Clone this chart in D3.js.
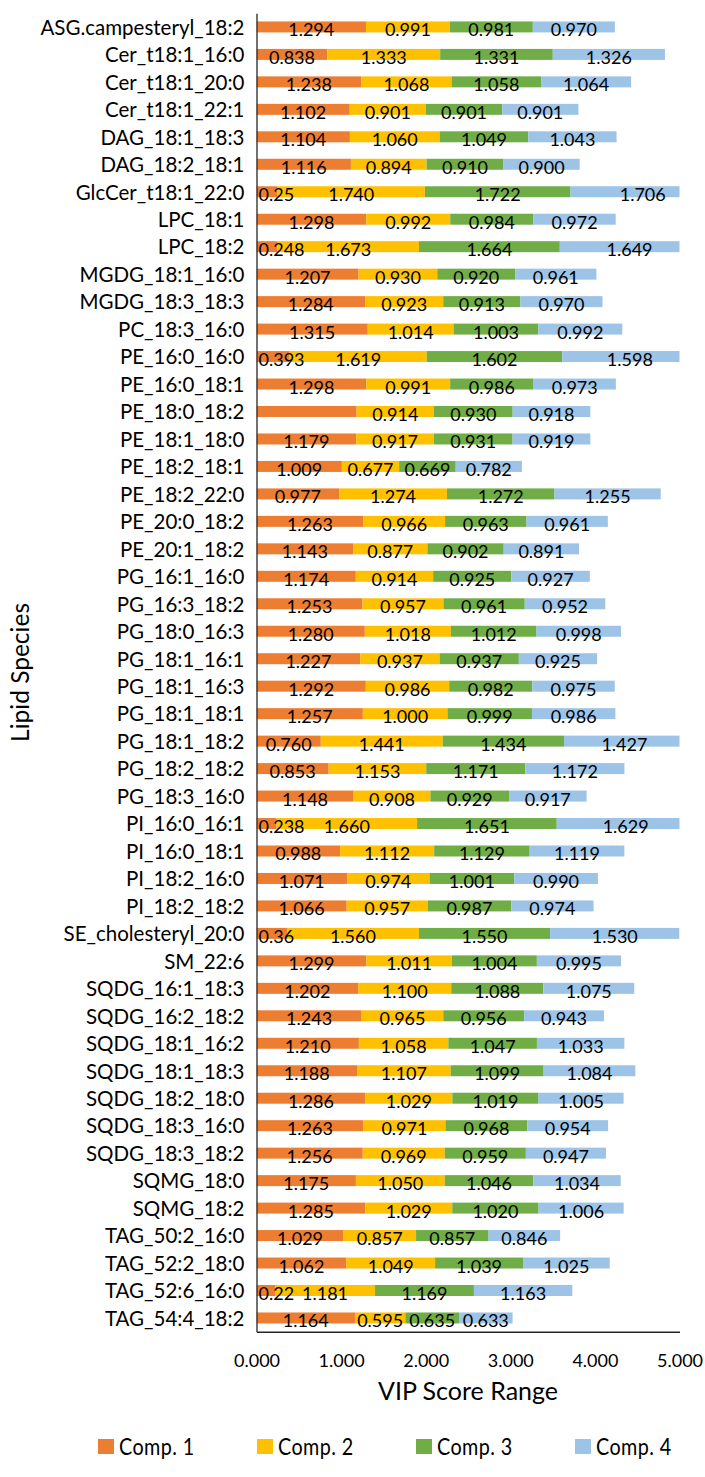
<!DOCTYPE html>
<html>
<head>
<meta charset="utf-8">
<script src="https://cdn.jsdelivr.net/npm/d3@7"></script>
<style>
  html, body { margin: 0; padding: 0; background: #fff; }
  svg { display: block; }
  text { font-family: Lato, "Noto Sans", sans-serif; fill: #000; }
</style>
</head>
<body>
<svg id="chart" width="705" height="1477"></svg>
<script>
// Lipid species (top to bottom)
const categories = [
  "ASG.campesteryl_18:2", "Cer_t18:1_16:0", "Cer_t18:1_20:0", "Cer_t18:1_22:1",
  "DAG_18:1_18:3", "DAG_18:2_18:1", "GlcCer_t18:1_22:0", "LPC_18:1", "LPC_18:2",
  "MGDG_18:1_16:0", "MGDG_18:3_18:3", "PC_18:3_16:0", "PE_16:0_16:0", "PE_16:0_18:1",
  "PE_18:0_18:2", "PE_18:1_18:0", "PE_18:2_18:1", "PE_18:2_22:0", "PE_20:0_18:2",
  "PE_20:1_18:2", "PG_16:1_16:0", "PG_16:3_18:2", "PG_18:0_16:3", "PG_18:1_16:1",
  "PG_18:1_16:3", "PG_18:1_18:1", "PG_18:1_18:2", "PG_18:2_18:2", "PG_18:3_16:0",
  "PI_16:0_16:1", "PI_16:0_18:1", "PI_18:2_16:0", "PI_18:2_18:2", "SE_cholesteryl_20:0",
  "SM_22:6", "SQDG_16:1_18:3", "SQDG_16:2_18:2", "SQDG_18:1_16:2", "SQDG_18:1_18:3",
  "SQDG_18:2_18:0", "SQDG_18:3_16:0", "SQDG_18:3_18:2", "SQMG_18:0", "SQMG_18:2",
  "TAG_50:2_16:0", "TAG_52:2_18:0", "TAG_52:6_16:0", "TAG_54:4_18:2"
];

// VIP scores per component, kept as the printed label text
const comp1 = [
  "1.294", "0.838", "1.238", "1.102", "1.104", "1.116", "0.25", "1.298", "0.248",
  "1.207", "1.284", "1.315", "0.393", "1.298", "1.184", "1.179", "1.009", "0.977",
  "1.263", "1.143", "1.174", "1.253", "1.280", "1.227", "1.292", "1.257", "0.760",
  "0.853", "1.148", "0.238", "0.988", "1.071", "1.066", "0.36", "1.299", "1.202",
  "1.243", "1.210", "1.188", "1.286", "1.263", "1.256", "1.175", "1.285", "1.029",
  "1.062", "0.22", "1.164"
];
const comp2 = [
  "0.991", "1.333", "1.068", "0.901", "1.060", "0.894", "1.740", "0.992", "1.673",
  "0.930", "0.923", "1.014", "1.619", "0.991", "0.914", "0.917", "0.677", "1.274",
  "0.966", "0.877", "0.914", "0.957", "1.018", "0.937", "0.986", "1.000", "1.441",
  "1.153", "0.908", "1.660", "1.112", "0.974", "0.957", "1.560", "1.011", "1.100",
  "0.965", "1.058", "1.107", "1.029", "0.971", "0.969", "1.050", "1.029", "0.857",
  "1.049", "1.181", "0.595"
];
const comp3 = [
  "0.981", "1.331", "1.058", "0.901", "1.049", "0.910", "1.722", "0.984", "1.664",
  "0.920", "0.913", "1.003", "1.602", "0.986", "0.930", "0.931", "0.669", "1.272",
  "0.963", "0.902", "0.925", "0.961", "1.012", "0.937", "0.982", "0.999", "1.434",
  "1.171", "0.929", "1.651", "1.129", "1.001", "0.987", "1.550", "1.004", "1.088",
  "0.956", "1.047", "1.099", "1.019", "0.968", "0.959", "1.046", "1.020", "0.857",
  "1.039", "1.169", "0.635"
];
const comp4 = [
  "0.970", "1.326", "1.064", "0.901", "1.043", "0.900", "1.706", "0.972", "1.649",
  "0.961", "0.970", "0.992", "1.598", "0.973", "0.918", "0.919", "0.782", "1.255",
  "0.961", "0.891", "0.927", "0.952", "0.998", "0.925", "0.975", "0.986", "1.427",
  "1.172", "0.917", "1.629", "1.119", "0.990", "0.974", "1.530", "0.995", "1.075",
  "0.943", "1.033", "1.084", "1.005", "0.954", "0.947", "1.034", "1.006", "0.846",
  "1.025", "1.163", "0.633"
];

// Segments drawn without a data label
const hiddenLabels = [{ series: "Comp. 1", category: "PE_18:0_18:2" }];

const seriesNames = ["Comp. 1", "Comp. 2", "Comp. 3", "Comp. 4"];
const seriesColors = ["#ED7D31", "#FFC000", "#70AD47", "#9DC3E6"];
const xTicks = [0, 1, 2, 3, 4, 5];

const seriesText = [comp1, comp2, comp3, comp4];
const rows = categories.map((c, i) => {
  const r = { category: c };
  seriesNames.forEach((s, k) => { r[s] = +seriesText[k][i]; r[s + "#label"] = seriesText[k][i]; });
  return r;
});

const svg = d3.select("#chart");

const plot = { left: 256.5, right: 679.5, top: 13.2, bottom: 1331.7 };

const x = d3.scaleLinear().domain([0, 5]).range([plot.left, plot.right]);
const y = d3.scaleBand().domain(categories).range([plot.top, plot.bottom])
  .paddingInner(0.6).paddingOuter(0.3);
const color = d3.scaleOrdinal().domain(seriesNames).range(seriesColors);

const stacked = d3.stack().keys(seriesNames)(rows);

svg.append("clipPath").attr("id", "plot-clip")
  .append("rect")
  .attr("x", plot.left).attr("y", 0)
  .attr("width", plot.right - plot.left).attr("height", plot.bottom);

// Stacked bars (clipped to the 0–5 axis range)
const barsG = svg.append("g").attr("clip-path", "url(#plot-clip)");
barsG.selectAll("g.series")
  .data(stacked)
  .join("g")
  .attr("class", "series")
  .attr("fill", d => color(d.key))
  .selectAll("rect")
  .data(d => d)
  .join("rect")
  .attr("x", d => x(d[0]))
  .attr("y", d => y(d.data.category))
  .attr("width", d => x(d[1]) - x(d[0]))
  .attr("height", y.bandwidth());

// Y axis
const yAxis = svg.append("g")
  .attr("transform", `translate(${plot.left},0)`)
  .call(d3.axisLeft(y).tickSize(0).tickPadding(12));
yAxis.select(".domain").attr("stroke", "#262626").attr("stroke-width", 1.3);
yAxis.selectAll("text")
  .style("font-family", "Lato, 'Noto Sans', sans-serif")
  .style("font-size", "20.5px")
  .attr("fill", "#000")
  .attr("dy", "0.38em");

// X axis
const xAxis = svg.append("g")
  .attr("transform", `translate(0,${plot.bottom})`)
  .call(d3.axisBottom(x).tickValues(xTicks).tickFormat(d3.format(".3f")).tickSize(0).tickPadding(23));
xAxis.select(".domain").attr("stroke", "#262626").attr("stroke-width", 1.5);
xAxis.selectAll("text")
  .style("font-family", "Lato, 'Noto Sans', sans-serif")
  .style("font-size", "18px")
  .attr("fill", "#000");

// Data labels
const labelsG = svg.append("g")
  .style("font-size", "18px")
  .attr("text-anchor", "middle");

const isHidden = (s, c) => hiddenLabels.some(h => h.series === s && h.category === c);

stacked.forEach(layer => {
  layer.forEach(d => {
    if (isHidden(layer.key, d.data.category)) return;
    const txt = d.data[layer.key + "#label"];
    const t = labelsG.append("text")
      .attr("y", y(d.data.category) + y.bandwidth() / 2 + 9.5)
      .text(txt);
    const w = t.node().getComputedTextLength();
    let cx = (x(d[0]) + x(d[1])) / 2;
    cx = Math.max(cx, plot.left + 2 + w / 2);
    t.attr("x", cx);
  });
});

// Axis titles
svg.append("text")
  .attr("x", (plot.left + plot.right) / 2)
  .attr("y", 1400)
  .attr("text-anchor", "middle")
  .style("font-size", "25px")
  .text("VIP Score Range");

svg.append("text")
  .attr("transform", `translate(29,${(plot.top + plot.bottom) / 2}) rotate(-90)`)
  .attr("text-anchor", "middle")
  .style("font-size", "24.5px")
  .text("Lipid Species");

// Legend (slightly condensed lettering)
const legend = svg.append("g").attr("transform", "translate(98,1439)");
const item = legend.selectAll("g")
  .data(seriesNames)
  .join("g")
  .attr("transform", (d, i) => `translate(${i * 159},0)`);
item.append("rect")
  .attr("width", 16).attr("height", 15)
  .attr("fill", d => color(d));
item.append("text")
  .attr("transform", "translate(21,16) scale(0.86,1)")
  .style("font-size", "23px")
  .style("letter-spacing", "0.5px")
  .text(d => d);
</script>
</body>
</html>
